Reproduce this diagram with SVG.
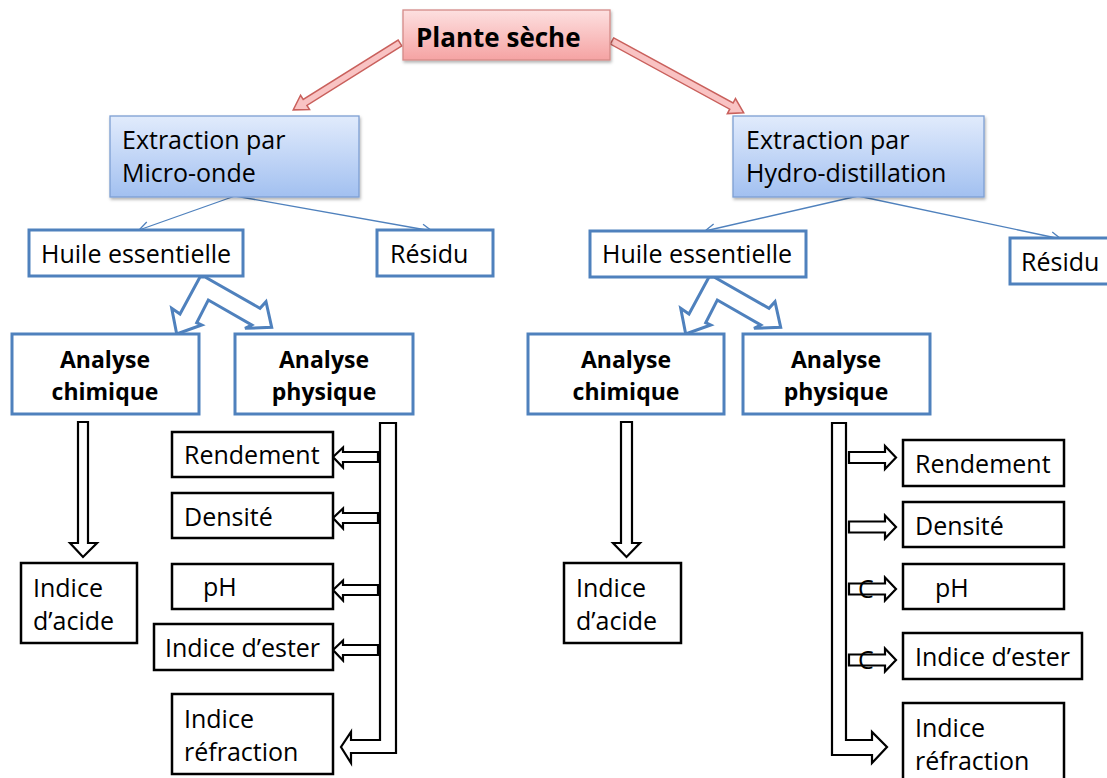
<svg xmlns="http://www.w3.org/2000/svg" width="1107" height="778" viewBox="0 0 1107 778">
<defs>
<linearGradient id="gPink" x1="0" y1="0" x2="0" y2="1"><stop offset="0" stop-color="#fde0e0"/><stop offset="1" stop-color="#f5a3a3"/></linearGradient>
<linearGradient id="gBlue" x1="0" y1="0" x2="0" y2="1"><stop offset="0" stop-color="#e1ebfc"/><stop offset="1" stop-color="#a2c0f0"/></linearGradient>
<filter id="sh" x="-10%" y="-10%" width="120%" height="130%"><feDropShadow dx="1" dy="2" stdDeviation="1.5" flood-color="#000" flood-opacity="0.3"/></filter>
<marker id="open" viewBox="0 0 12 12" refX="11" refY="6" markerWidth="12" markerHeight="12" markerUnits="userSpaceOnUse" orient="auto"><path d="M1,1 L11,6 L1,11" fill="none" stroke="#4f81bd" stroke-width="1.3"/></marker>
<style>
text{font-family:"Open Sans","Liberation Sans",sans-serif;fill:#000}
.t{font-size:25px}
.b{font-size:23px;font-weight:bold}
.bb{font-size:26px;font-weight:bold}
.bluebox{fill:#fff;stroke:#4f81bd;stroke-width:3}
.blackbox{fill:#fff;stroke:#000;stroke-width:2.5}
.blk{fill:#fff;stroke:#000;stroke-width:2.2;stroke-linejoin:miter}
.red{fill:#f9c3c3;stroke:#c9605c;stroke-width:1.5}
.thin{fill:none;stroke:#4f81bd;stroke-width:1.3}
.dbl{fill:#fff;stroke:#4f81bd;stroke-width:3;stroke-linejoin:miter}
</style>
</defs>
<rect width="1107" height="778" fill="#fff"/>

<g id="connectors">
<path class="red" transform="translate(400,43) rotate(147.95)" d="M0,-3.5 L112,-3.5 L112,-8.5 L126,0 L112,8.5 L112,3.5 L0,3.5 Z"/>
<path class="red" transform="translate(612,41) rotate(28.6)" d="M0,-3.5 L136,-3.5 L136,-8.5 L150,0 L136,8.5 L136,3.5 L0,3.5 Z"/>
<line class="thin" x1="235" y1="196" x2="139" y2="230" marker-end="url(#open)"/>
<line class="thin" x1="235" y1="196" x2="432" y2="231" marker-end="url(#open)"/>
<line class="thin" x1="858" y1="196" x2="705" y2="231" marker-end="url(#open)"/>
<line class="thin" x1="858" y1="196" x2="1061" y2="239" marker-end="url(#open)"/>
<path id="dblL" class="dbl" d="M200,277 L180,314 L171.7,308.3 L176.7,334 L201.7,325 L196.7,322.7 L208.3,300 L251.7,325 L245,328.3 L271.7,327.3 L266,301.7 L260,308.3 L205,277 Z"/>
<use href="#dblL" transform="translate(509,0)"/>
<path class="blk" d="M78,422 L88,422 L88,543 L97,543 L83,557 L70,543 L78,543 Z"/>
<path class="blk" d="M621,422 L632,422 L632,543 L640,543 L626.5,557 L613,543 L621,543 Z"/>
<path class="blk" d="M380,423 L396,423 L396,753 L351,753 L351,763 L341,747 L351,732 L351,740 L380,740 Z"/>
<path class="blk" d="M378,452 L343,452 L343,447.5 L333,457 L343,467.5 L343,462 L378,462 Z"/>
<path class="blk" d="M378,513 L343,513 L343,508.5 L333,518 L343,528.5 L343,523 L378,523 Z"/>
<path class="blk" d="M378,585 L343,585 L343,580.5 L333,590 L343,600.5 L343,595 L378,595 Z"/>
<path class="blk" d="M378,645 L343,645 L343,640.5 L333,650 L343,660.5 L343,655 L378,655 Z"/>
<path class="blk" d="M832,423 L846,423 L846,740 L872,740 L872,732 L887,747 L872,763 L872,755 L832,755 Z"/>
<path class="blk" d="M849,452 L885,452 L885,446 L896,457.5 L885,469 L885,463 L849,463 Z"/>
<path class="blk" d="M849,521.5 L885,521.5 L885,515.5 L896,527 L885,538.5 L885,532.5 L849,532.5 Z"/>
<text class="t" x="858" y="598">C</text>
<path class="blk" d="M849,583.5 L885,583.5 L885,577.5 L896,589 L885,600.5 L885,594.5 L849,594.5 Z" style="fill:none"/>
<text class="t" x="858" y="669">C</text>
<path class="blk" d="M849,654.5 L885,654.5 L885,648.5 L896,660 L885,671.5 L885,665.5 L849,665.5 Z" style="fill:none"/>
</g>

<g id="plante"><rect x="403" y="10" width="207" height="50" fill="url(#gPink)" stroke="#d48a88" stroke-width="1.3" filter="url(#sh)"/><text class="bb" x="416" y="47">Plante sèche</text></g>

<g id="extraction-micro"><rect x="110" y="116" width="249" height="81" fill="url(#gBlue)" stroke="#7d9fd3" stroke-width="1.3" filter="url(#sh)"/><text class="t" x="122" y="149">Extraction par</text><text class="t" x="122" y="182">Micro-onde</text></g>
<g id="extraction-hydro"><rect x="733" y="116" width="251" height="81" fill="url(#gBlue)" stroke="#7d9fd3" stroke-width="1.3" filter="url(#sh)"/><text class="t" x="746" y="149">Extraction par</text><text class="t" x="746" y="182">Hydro-distillation</text></g>

<g id="huile-L"><rect class="bluebox" x="29" y="230" width="214" height="46"/><text class="t" x="41" y="263">Huile essentielle</text></g>
<g id="residu-L"><rect class="bluebox" x="377" y="230" width="116" height="46"/><text class="t" x="390" y="263">Résidu</text></g>
<g id="huile-R"><rect class="bluebox" x="590" y="231" width="216" height="46"/><text class="t" x="602" y="263">Huile essentielle</text></g>
<g id="residu-R"><rect class="bluebox" x="1010" y="238" width="105" height="46"/><text class="t" x="1021" y="271">Résidu</text></g>

<g id="chim-L"><rect class="bluebox" x="12" y="334" width="187" height="80"/><text class="b" x="105" y="368" text-anchor="middle">Analyse</text><text class="b" x="105" y="400" text-anchor="middle">chimique</text></g>
<g id="phys-L"><rect class="bluebox" x="235" y="334" width="178" height="80"/><text class="b" x="324" y="368" text-anchor="middle">Analyse</text><text class="b" x="324" y="400" text-anchor="middle">physique</text></g>
<g id="chim-R"><rect class="bluebox" x="528" y="334" width="196" height="80"/><text class="b" x="626" y="368" text-anchor="middle">Analyse</text><text class="b" x="626" y="400" text-anchor="middle">chimique</text></g>
<g id="phys-R"><rect class="bluebox" x="743" y="334" width="187" height="80"/><text class="b" x="836" y="368" text-anchor="middle">Analyse</text><text class="b" x="836" y="400" text-anchor="middle">physique</text></g>

<g id="acide-L"><rect class="blackbox" x="21" y="563" width="116" height="80"/><text class="t" x="33" y="597">Indice</text><text class="t" x="33" y="630">d’acide</text></g>
<g id="acide-R"><rect class="blackbox" x="564" y="563" width="117" height="80"/><text class="t" x="576" y="597">Indice</text><text class="t" x="576" y="630">d’acide</text></g>

<g id="rend-L"><rect class="blackbox" x="172" y="432" width="161" height="45"/><text class="t" x="184" y="464">Rendement</text></g>
<g id="dens-L"><rect class="blackbox" x="172" y="493" width="161" height="45"/><text class="t" x="184" y="526">Densité</text></g>
<g id="ph-L"><rect class="blackbox" x="172" y="564" width="161" height="45"/><text class="t" x="203" y="596">pH</text></g>
<g id="ester-L"><rect class="blackbox" x="154" y="624" width="179" height="46"/><text class="t" x="165" y="657">Indice d’ester</text></g>
<g id="refr-L"><rect class="blackbox" x="172" y="694" width="161" height="80"/><text class="t" x="184" y="728">Indice</text><text class="t" x="184" y="761">réfraction</text></g>

<g id="rend-R"><rect class="blackbox" x="903" y="440" width="161" height="46"/><text class="t" x="915" y="473">Rendement</text></g>
<g id="dens-R"><rect class="blackbox" x="903" y="502" width="161" height="45"/><text class="t" x="915" y="535">Densité</text></g>
<g id="ph-R"><rect class="blackbox" x="903" y="564" width="161" height="45"/><text class="t" x="935" y="597">pH</text></g>
<g id="ester-R"><rect class="blackbox" x="903" y="633" width="179" height="46"/><text class="t" x="915" y="666">Indice d’ester</text></g>
<g id="refr-R"><rect class="blackbox" x="903" y="703" width="161" height="85"/><text class="t" x="915" y="737">Indice</text><text class="t" x="915" y="770">réfraction</text></g>
</svg>
